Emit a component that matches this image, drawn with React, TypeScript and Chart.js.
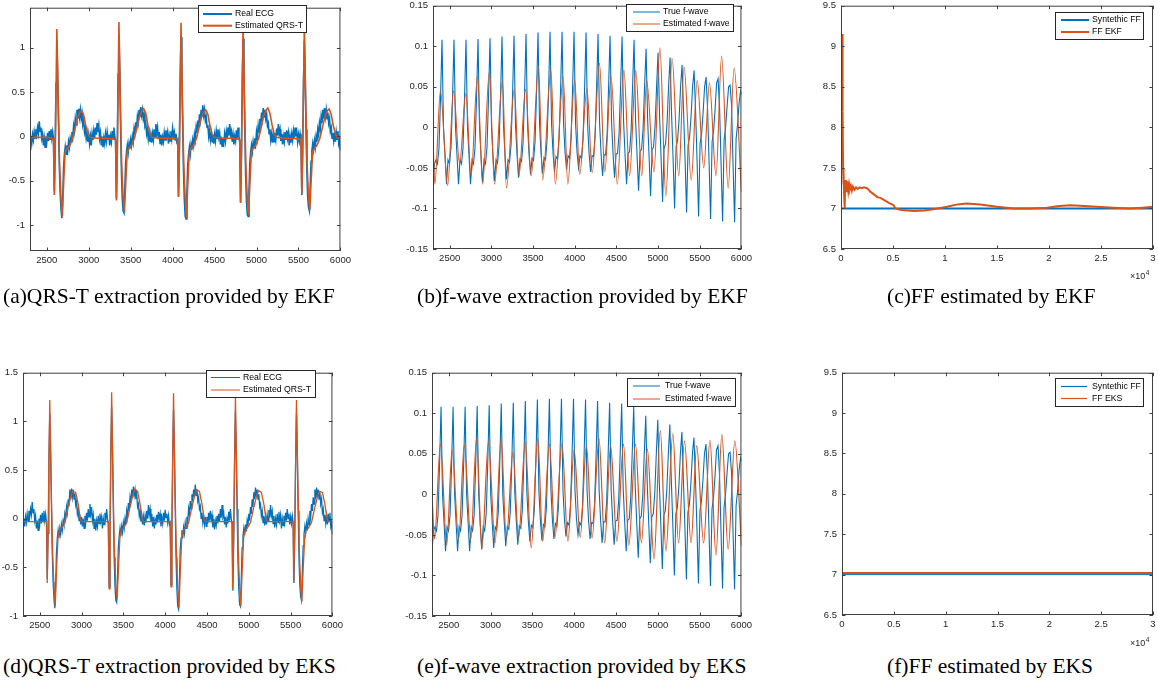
import React, { useEffect, useRef } from 'react';
import { Chart, registerables } from 'chart.js';

Chart.register(...registerables);

const BLUE = '#0072BD';
const ORANGE = '#D95319';
const AXIS = '#404040';
const TEXT = '#262626';
const SANS = '"Liberation Sans", Arial, Helvetica, sans-serif';

// ---------------- DATA ----------------
// Real ECG (same record in panels a and d), sample index = ecgStart + i*ecgStep
const ecgStart = 2300;
const ecgStep = 10;
const realEcg = [
  -0.06, 0.0, -0.08, 0.02, -0.04, 0.05, -0.02, 0.08, 0.02, 0.1, 0.04, 0.17, 0.06, 0.1, -0.02, 0.03, -0.1, -0.02, -0.12, 0.0, -0.06, 0.04, -0.05, 0.06, -0.03, 0.08, -0.02,
  0.05, -0.03, -0.62, -0.15, 0.6, 1.08, 0.7, 0.15, -0.35, -0.65, -0.82, -0.92, -0.7, -0.35, -0.2, -0.12, -0.2, -0.1, -0.16, -0.06, -0.12, -0.02, -0.06, 0.05, 0.0, 0.12, 0.06, 0.2, 0.13, 0.3, 0.2, 0.31, 0.22, 0.3, 0.2, 0.26, 0.14, 0.18, 0.05, 0.1, -0.02, 0.04, -0.06, 0.02,
  -0.08, 0.0, -0.1, 0.03, -0.04, 0.06, -0.02, 0.1, 0.02, 0.15, 0.05, 0.12, -0.02, 0.04, -0.1, 0.0, -0.12, -0.02, -0.08, 0.03, -0.05, 0.05, -0.03, 0.02, -0.1, 0.0, -0.06, 0.06, -0.02, 0.1, 0.0,
  -0.05, -0.7, -0.2, 0.7, 1.15, 0.75, 0.1, -0.4, -0.7, -0.84, -0.86, -0.6, -0.3, -0.18, -0.1, -0.18, -0.08, -0.14, -0.04, -0.1, 0.0, -0.06, 0.08, 0.02, 0.16, 0.08, 0.22, 0.16, 0.3, 0.22, 0.33, 0.24, 0.3, 0.2, 0.25, 0.12, 0.15, 0.03, 0.08, -0.03, 0.04, -0.06, 0.02,
  -0.07, 0.03, -0.04, 0.08, 0.0, 0.14, 0.04, 0.1, -0.03, 0.05, -0.08, 0.02, -0.1, -0.01, -0.06, 0.04, -0.04, 0.07, 0.0, 0.05, -0.08, 0.01, -0.05, 0.06, -0.02, 0.09, 0.01, 0.05, -0.04, 0.03, -0.06,
  -0.04, -0.68, -0.18, 0.65, 1.12, 0.72, 0.12, -0.4, -0.72, -0.9, -0.93, -0.65, -0.32, -0.2, -0.12, -0.2, -0.09, -0.15, -0.04, -0.1, 0.02, -0.04, 0.1, 0.04, 0.18, 0.1, 0.25, 0.18, 0.3, 0.22, 0.35, 0.24, 0.3, 0.18, 0.22, 0.1, 0.13, 0.0, 0.06, -0.04, 0.03, -0.06, 0.02,
  -0.08, 0.02, -0.05, 0.06, -0.02, 0.08, -0.01, 0.04, -0.09, 0.0, -0.11, -0.02, -0.07, 0.03, -0.05, 0.05, -0.03, 0.1, 0.01, 0.14, 0.02, 0.06, -0.06, 0.02, -0.09, 0.0, -0.05, 0.07, -0.02, 0.1, 0.0,
  -0.06, -0.74, -0.22, 0.62, 1.1, 0.7, 0.1, -0.42, -0.72, -0.88, -0.9, -0.62, -0.3, -0.18, -0.1, -0.17, -0.06, -0.13, -0.02, -0.08, 0.05, -0.02, 0.12, 0.05, 0.2, 0.12, 0.27, 0.2, 0.32, 0.22, 0.3, 0.2, 0.25, 0.12, 0.15, 0.03, 0.08, -0.04, 0.03, -0.07, 0.02,
  -0.06, 0.04, -0.03, 0.09, 0.01, 0.14, 0.03, 0.08, -0.05, 0.03, -0.09, 0.0, -0.06, 0.05, -0.04, 0.07, -0.02, 0.04, -0.1, 0.0, -0.07, 0.03, -0.04, 0.06, -0.02, 0.1, 0.0, 0.05, -0.06, 0.02,
  -0.05, 0.03, -0.04, -0.66, -0.15, 0.62, 1.08, 0.68, 0.08, -0.4, -0.68, -0.8, -0.84, -0.55, -0.28, -0.16, -0.08, -0.15, -0.05, -0.12, 0.0, -0.06, 0.08, 0.02, 0.15, 0.08, 0.22, 0.15, 0.3, 0.2, 0.32, 0.22, 0.3, 0.2, 0.27, 0.15, 0.2, 0.06, 0.1, -0.02, 0.04, -0.05, 0.03, -0.06, 0.05, -0.03, 0.06, -0.08, -0.04, -0.16,
];

// Estimated QRS-T by EKF (panel a): [sample, value]
const qrsEkf: [number, number][] = [
  [2300, -0.01], [2400, -0.01], [2500, -0.01], [2560, -0.02],
  [2580, -0.03], [2590, -0.66], [2602, -0.05], [2620, 1.21], [2635, 0.45], [2652, -0.3], [2670, -0.7], [2685, -0.9], [2700, -0.55], [2718, -0.18], [2735, -0.14], [2770, -0.11], [2805, -0.03], [2835, 0.08], [2865, 0.2], [2895, 0.27], [2915, 0.29], [2940, 0.24], [2965, 0.12], [2990, 0.03], [3015, -0.01],
  [3100, -0.02], [3200, -0.02], [3300, -0.03],
  [3320, -0.04], [3330, -0.72], [3342, -0.05], [3360, 1.29], [3375, 0.45], [3392, -0.3], [3410, -0.68], [3425, -0.85], [3440, -0.55], [3458, -0.18], [3475, -0.14], [3510, -0.1], [3545, -0.02], [3575, 0.1], [3605, 0.22], [3635, 0.29], [3655, 0.31], [3680, 0.26], [3705, 0.13], [3730, 0.03], [3755, -0.01],
  [3850, -0.02], [3950, -0.02], [4040, -0.03],
  [4060, -0.04], [4070, -0.68], [4082, -0.05], [4100, 1.28], [4115, 0.45], [4132, -0.3], [4150, -0.7], [4165, -0.92], [4180, -0.56], [4198, -0.18], [4215, -0.14], [4250, -0.1], [4285, -0.02], [4315, 0.1], [4345, 0.22], [4375, 0.28], [4395, 0.3], [4420, 0.25], [4445, 0.12], [4470, 0.03], [4495, -0.01],
  [4600, -0.02], [4700, -0.02], [4780, -0.03],
  [4800, -0.04], [4810, -0.75], [4822, -0.05], [4840, 1.26], [4855, 0.45], [4872, -0.3], [4890, -0.7], [4905, -0.88], [4920, -0.55], [4938, -0.18], [4955, -0.14], [4990, -0.1], [5025, -0.02], [5055, 0.1], [5085, 0.23], [5115, 0.3], [5135, 0.32], [5160, 0.26], [5185, 0.13], [5210, 0.03], [5235, -0.01],
  [5330, -0.02], [5430, -0.02], [5510, -0.03],
  [5530, -0.04], [5540, -0.65], [5552, -0.05], [5570, 1.24], [5585, 0.45], [5602, -0.3], [5620, -0.68], [5635, -0.83], [5650, -0.52], [5668, -0.18], [5685, -0.14], [5720, -0.1], [5755, -0.02], [5785, 0.1], [5815, 0.22], [5845, 0.29], [5865, 0.31], [5890, 0.25], [5915, 0.12], [5940, 0.03], [5965, -0.01], [6000, -0.02],
];

// Estimated QRS-T by EKS (panel d)
const qrsEks: [number, number][] = [
  [2300, -0.03], [2570, -0.03],
  [2582, -0.03], [2590, -0.66], [2600, -0.1], [2620, 1.22], [2635, 0.45], [2652, -0.3], [2670, -0.7], [2685, -0.9], [2700, -0.55], [2718, -0.2], [2735, -0.12], [2760, -0.1], [2800, -0.04], [2835, 0.1], [2870, 0.22], [2895, 0.28], [2930, 0.27], [2960, 0.15], [2985, 0.0], [3000, -0.03],
  [3320, -0.03],
  [3322, -0.03], [3330, -0.72], [3340, -0.1], [3360, 1.3], [3375, 0.45], [3392, -0.3], [3410, -0.68], [3425, -0.83], [3440, -0.55], [3458, -0.2], [3475, -0.12], [3500, -0.1], [3540, -0.04], [3575, 0.1], [3610, 0.23], [3635, 0.3], [3670, 0.28], [3700, 0.15], [3725, 0.0], [3740, -0.03],
  [4060, -0.03],
  [4062, -0.03], [4070, -0.7], [4080, -0.1], [4100, 1.29], [4115, 0.45], [4132, -0.3], [4150, -0.7], [4165, -0.92], [4180, -0.56], [4198, -0.2], [4215, -0.12], [4240, -0.1], [4280, -0.04], [4315, 0.1], [4350, 0.23], [4375, 0.3], [4410, 0.28], [4440, 0.15], [4465, 0.0], [4480, -0.03],
  [4800, -0.03],
  [4802, -0.03], [4810, -0.72], [4820, -0.1], [4840, 1.25], [4855, 0.45], [4872, -0.3], [4890, -0.7], [4905, -0.9], [4920, -0.55], [4938, -0.2], [4955, -0.12], [4980, -0.1], [5020, -0.04], [5055, 0.1], [5090, 0.22], [5115, 0.29], [5150, 0.27], [5180, 0.15], [5205, 0.0], [5220, -0.03],
  [5530, -0.03],
  [5532, -0.03], [5540, -0.65], [5550, -0.1], [5570, 1.22], [5585, 0.45], [5602, -0.3], [5620, -0.68], [5635, -0.85], [5650, -0.52], [5668, -0.2], [5685, -0.12], [5710, -0.1], [5750, -0.04], [5785, 0.1], [5820, 0.22], [5845, 0.28], [5880, 0.27], [5910, 0.15], [5935, 0.0], [5950, -0.03], [6000, -0.03],
];

// True f-wave (panels b and e), sample index = fStart + k*fStep
const fStart = 2300;
const fStep = 18;
const trueFwave = [
  -0.07, -0.045, -0.04, -0.045, -0.025, 0.035,
  0.108, 0.0, -0.035, -0.07, -0.04, -0.045, -0.025, 0.035,
  0.108, 0.0, -0.035, -0.07, -0.04, -0.045, -0.025, 0.035,
  0.108, 0.0, -0.035, -0.07, -0.04, -0.045, -0.025, 0.035,
  0.109, 0.0, -0.035, -0.068, -0.04, -0.045, -0.024, 0.036,
  0.11, 0.0, -0.035, -0.066, -0.04, -0.044, -0.023, 0.037,
  0.112, 0.001, -0.034, -0.064, -0.04, -0.043, -0.022, 0.038,
  0.113, 0.002, -0.033, -0.062, -0.039, -0.042, -0.02, 0.04,
  0.115, 0.003, -0.033, -0.058, -0.038, -0.041, -0.018, 0.042,
  0.117, 0.004, -0.032, -0.057, -0.037, -0.04, -0.016, 0.044,
  0.118, 0.005, -0.032, -0.055, -0.036, -0.039, -0.015, 0.045,
  0.118, 0.005, -0.031, -0.052, -0.035, -0.038, -0.014, 0.046,
  0.118, 0.005, -0.031, -0.05, -0.035, -0.038, -0.014, 0.046,
  0.117, 0.005, -0.032, -0.055, -0.035, -0.036, -0.012, 0.047,
  0.115, 0.006, -0.032, -0.06, -0.034, -0.034, -0.01, 0.048,
  0.113, 0.007, -0.033, -0.062, -0.033, -0.032, -0.008, 0.049,
  0.112, 0.008, -0.034, -0.07, -0.032, -0.03, -0.005, 0.05,
  0.108, 0.01, -0.035, -0.078, -0.03, -0.027, -0.002, 0.05,
  0.097, 0.012, -0.036, -0.085, -0.028, -0.024, 0.002, 0.05,
  0.092, 0.014, -0.037, -0.092, -0.026, -0.02, 0.006, 0.05,
  0.086, 0.016, -0.038, -0.1, -0.024, -0.016, 0.01, 0.05,
  0.077, 0.018, -0.04, -0.105, -0.022, -0.012, 0.014, 0.05,
  0.07, 0.02, -0.042, -0.11, -0.02, -0.008, 0.018, 0.05,
  0.062, 0.022, -0.044, -0.113, -0.018, -0.004, 0.022, 0.055,
  0.06, 0.024, -0.046, -0.116, -0.016, 0.0, 0.026, 0.05,
  0.052, 0.026, -0.048, -0.117, -0.014, 0.004, 0.03, 0.045,
  0.04,
];

// Estimated f-wave by EKF (panel b): extrema [sample, value]
const fwaveEkf: [number, number][] = [
  [2300, -0.013], [2322, -0.07], [2389, 0.045], [2476, -0.072], [2547, 0.045], [2619, -0.045], [2694, 0.042],
  [2757, -0.06], [2833, 0.063], [2896, -0.07], [2975, 0.068], [3038, -0.07], [3133, 0.057], [3181, -0.075],
  [3276, 0.047], [3331, -0.06], [3411, 0.047], [3478, -0.06], [3565, 0.075], [3616, -0.065], [3715, 0.07],
  [3767, -0.07], [3862, 0.062], [3917, -0.07], [4000, 0.058], [4060, -0.058], [4147, 0.048], [4210, -0.056],
  [4297, 0.079], [4361, -0.055], [4436, 0.063], [4511, -0.07], [4590, 0.071], [4658, -0.06], [4733, 0.07],
  [4804, -0.06], [4863, 0.058], [4951, -0.055], [5022, 0.098], [5093, -0.085], [5168, 0.085], [5248, -0.06],
  [5311, 0.075], [5398, -0.065], [5469, 0.058], [5548, -0.05], [5616, 0.055], [5695, -0.06], [5762, 0.088],
  [5841, -0.075], [5912, 0.073], [6000, -0.08],
];

// Estimated f-wave by EKS (panel e)
const fwaveEks: [number, number][] = [
  [2300, 0.0], [2330, -0.055], [2401, 0.062], [2476, -0.062], [2540, 0.055], [2619, -0.055], [2686, 0.061],
  [2765, -0.055], [2833, 0.069], [2896, -0.067], [2975, 0.065], [3054, -0.06], [3126, 0.068], [3189, -0.055],
  [3268, 0.052], [3335, -0.054], [3415, 0.064], [3486, -0.066], [3565, 0.069], [3624, -0.058], [3704, 0.062],
  [3771, -0.053], [3854, 0.063], [3925, -0.058], [4000, 0.055], [4072, -0.053], [4147, 0.06], [4214, -0.054],
  [4297, 0.069], [4365, -0.06], [4436, 0.06], [4511, -0.058], [4590, 0.062], [4654, -0.063], [4733, 0.062],
  [4804, -0.06], [4875, 0.056], [4955, -0.08], [5030, 0.079], [5097, -0.07], [5180, 0.075], [5248, -0.06],
  [5319, 0.066], [5398, -0.06], [5465, 0.06], [5548, -0.06], [5624, 0.067], [5695, -0.075], [5766, 0.074],
  [5841, -0.068], [5921, 0.066], [6000, -0.063],
];

// Fibrillatory frequency (Hz) vs sample
const ffSynthetic: [number, number][] = [[0, 7.0], [30000, 7.0]];
const ffEkf: [number, number][] = [
  [0, 7.9], [40, 8.6], [80, 9.0], [110, 9.15], [140, 8.9], [170, 8.2], [200, 7.5], [230, 7.3], [260, 7.45], [290, 7.2],
  [330, 7.0], [380, 7.02], [420, 7.35], [460, 7.22], [500, 7.34], [560, 7.2], [620, 7.33], [700, 7.22], [780, 7.3],
  [860, 7.24], [950, 7.28], [1050, 7.22], [1150, 7.27], [1300, 7.23], [1450, 7.26], [1600, 7.24], [1800, 7.26],
  [2000, 7.25], [2200, 7.26], [2500, 7.25], [2800, 7.21], [3100, 7.18], [3500, 7.14], [3800, 7.13], [4200, 7.1],
  [4600, 7.07], [5060, 7.04], [5220, 7.0], [5800, 6.98], [7000, 6.97], [8000, 6.975], [8900, 6.99], [10200, 7.02],
  [11200, 7.05], [12100, 7.06], [13400, 7.05], [15000, 7.02], [16600, 7.0], [18200, 7.0], [19800, 7.01],
  [21000, 7.03], [22050, 7.04], [23400, 7.03], [24600, 7.02], [26200, 7.01], [27800, 7.0], [29000, 7.01], [30000, 7.02],
];
const ffEks: [number, number][] = [[0, 7.02], [30000, 7.02]];

// Tick values
const ecgXTicks = [2500, 3000, 3500, 4000, 4500, 5000, 5500, 6000];
const ecgYTicksA = [-1, -0.5, 0, 0.5, 1];
const ecgYTicksD = [-1, -0.5, 0, 0.5, 1, 1.5];
const fwaveYTicks = [-0.15, -0.1, -0.05, 0, 0.05, 0.1, 0.15];
const ffXTicks = [0, 5000, 10000, 15000, 20000, 25000, 30000];
const ffYTicks = [6.5, 7, 7.5, 8, 8.5, 9, 9.5];

// ---------------- LAYOUT ----------------
const PAD_L = 60;
const PAD_T = 8;
const PAD_R = 12;
const PAD_B = 36;

type Series = { label: string; points: { x: number; y: number }[]; color: string; width: number; smooth?: boolean };
type PanelSpec = {
  id: string;
  rect: [number, number, number, number];
  xRange: [number, number];
  yRange: [number, number];
  xTicks: number[];
  yTicks: number[];
  xScale: number;
  series: Series[];
  legend: { box: [number, number, number, number]; line: [number, number]; textX: number; rows: [number, number]; lineWidth: number };
  exponent?: [number, number];
};

const fromGrid = (start: number, step: number, vals: number[]) => vals.map((y, i) => ({ x: start + i * step, y }));
const fromPairs = (pairs: [number, number][]) => pairs.map(([x, y]) => ({ x, y }));

const panels: PanelSpec[] = [
  {
    id: 'a', rect: [30, 5, 343, 251], xRange: [2300, 6000], yRange: [-1.29, 1.45], xTicks: ecgXTicks, yTicks: ecgYTicksA, xScale: 1,
    series: [
      { label: 'Real ECG', points: fromGrid(ecgStart, ecgStep, realEcg), color: BLUE, width: 1.6 },
      { label: 'Estimated QRS-T', points: fromPairs(qrsEkf), color: ORANGE, width: 1.6 },
    ],
    legend: { box: [198, 5, 306, 32], line: [203, 232], textX: 235, rows: [14, 25.7], lineWidth: 2 },
  },
  {
    id: 'b', rect: [433, 3, 744, 249], xRange: [2300, 6000], yRange: [-0.15, 0.15], xTicks: ecgXTicks, yTicks: fwaveYTicks, xScale: 1,
    series: [
      { label: 'True f-wave', points: fromGrid(fStart, fStep, trueFwave), color: BLUE, width: 1.1 },
      { label: 'Estimated f-wave', points: fromPairs(fwaveEkf), color: ORANGE, width: 1.1, smooth: true },
    ],
    legend: { box: [626, 4, 733, 31], line: [633, 660], textX: 663, rows: [12, 24], lineWidth: 1 },
  },
  {
    id: 'c', rect: [841, 3, 1153, 249], xRange: [0, 30000], yRange: [6.5, 9.5], xTicks: ffXTicks, yTicks: ffYTicks, xScale: 10000,
    series: [
      { label: 'Syntethic FF', points: fromPairs(ffSynthetic), color: BLUE, width: 2 },
      { label: 'FF EKF', points: fromPairs(ffEkf), color: ORANGE, width: 2 },
    ],
    legend: { box: [1055, 12, 1143, 39], line: [1061, 1089], textX: 1092, rows: [20, 32], lineWidth: 2 },
    exponent: [1130, 279],
  },
  {
    id: 'd', rect: [23, 370, 335, 616], xRange: [2300, 6000], yRange: [-1, 1.5], xTicks: ecgXTicks, yTicks: ecgYTicksD, xScale: 1,
    series: [
      { label: 'Real ECG', points: fromGrid(ecgStart, ecgStep, realEcg), color: BLUE, width: 1.3 },
      { label: 'Estimated QRS-T', points: fromPairs(qrsEks), color: ORANGE, width: 1.3 },
    ],
    legend: { box: [206, 370, 315, 397], line: [211, 240], textX: 243, rows: [377.5, 390], lineWidth: 1 },
  },
  {
    id: 'e', rect: [432, 370, 744, 616], xRange: [2300, 6000], yRange: [-0.15, 0.15], xTicks: ecgXTicks, yTicks: fwaveYTicks, xScale: 1,
    series: [
      { label: 'True f-wave', points: fromGrid(fStart, fStep, trueFwave), color: BLUE, width: 1.1 },
      { label: 'Estimated f-wave', points: fromPairs(fwaveEks), color: ORANGE, width: 1.2, smooth: true },
    ],
    legend: { box: [627, 378, 735, 406], line: [633, 660], textX: 665, rows: [386, 399], lineWidth: 1 },
  },
  {
    id: 'f', rect: [842, 370, 1153, 615], xRange: [0, 30000], yRange: [6.5, 9.5], xTicks: ffXTicks, yTicks: ffYTicks, xScale: 10000,
    series: [
      { label: 'Syntethic FF', points: fromPairs(ffSynthetic), color: BLUE, width: 1 },
      { label: 'FF EKS', points: fromPairs(ffEks), color: ORANGE, width: 2 },
    ],
    legend: { box: [1055, 378, 1143, 406], line: [1061, 1087], textX: 1092, rows: [386.5, 398.5], lineWidth: 1.2 },
    exponent: [1130, 646],
  },
];

const captions = [
  { text: '(a)QRS-T extraction provided by EKF', left: 3, top: 286 },
  { text: '(b)f-wave extraction provided by EKF', left: 417, top: 286 },
  { text: '(c)FF estimated by EKF', left: 887, top: 286 },
  { text: '(d)QRS-T extraction provided by EKS', left: 3, top: 656 },
  { text: '(e)f-wave extraction provided by EKS', left: 417, top: 656 },
  { text: '(f)FF estimated by EKS', left: 887, top: 656 },
];

const fmt = (v: number) => String(Math.round(v * 1e6) / 1e6);

const matlabPlugin = {
  id: 'matlab',
  afterDatasetsDraw(chart: any, _args: any, opts: any) {
    const { ctx, chartArea: a, scales } = chart;
    const xs = scales.x;
    const ys = scales.y;
    ctx.save();
    ctx.strokeStyle = AXIS;
    ctx.lineWidth = 1;
    const tl = 3.5;
    ctx.beginPath();
    for (const t of xs.ticks) {
      const px = Math.round(xs.getPixelForValue(t.value)) + 0.5;
      ctx.moveTo(px, a.bottom);
      ctx.lineTo(px, a.bottom - tl);
      ctx.moveTo(px, a.top);
      ctx.lineTo(px, a.top + tl);
    }
    for (const t of ys.ticks) {
      const py = Math.round(ys.getPixelForValue(t.value)) + 0.5;
      ctx.moveTo(a.left, py);
      ctx.lineTo(a.left + tl, py);
      ctx.moveTo(a.right, py);
      ctx.lineTo(a.right - tl, py);
    }
    ctx.stroke();
    ctx.strokeRect(a.left + 0.5, a.top + 0.5, a.right - a.left - 1, a.bottom - a.top - 1);

    const [ox, oy] = opts.origin;
    const lg = opts.legend;
    if (lg) {
      const [l, t, r, b] = lg.box;
      ctx.fillStyle = '#ffffff';
      ctx.fillRect(l - ox, t - oy, r - l, b - t);
      ctx.strokeStyle = '#262626';
      ctx.lineWidth = 1;
      ctx.strokeRect(Math.round(l - ox) + 0.5, Math.round(t - oy) + 0.5, Math.round(r - l), Math.round(b - t));
      ctx.font = `8.7px ${SANS}`;
      ctx.textBaseline = 'middle';
      ctx.textAlign = 'left';
      chart.data.datasets.forEach((ds: any, i: number) => {
        const y = lg.rows[i] - oy;
        ctx.strokeStyle = ds.borderColor;
        ctx.lineWidth = lg.lineWidth;
        ctx.beginPath();
        ctx.moveTo(lg.line[0] - ox, y);
        ctx.lineTo(lg.line[1] - ox, y);
        ctx.stroke();
        ctx.fillStyle = '#000000';
        ctx.fillText(ds.label, lg.textX - ox, y);
      });
    }
    if (opts.exponent) {
      const [ex, ey] = opts.exponent;
      ctx.fillStyle = TEXT;
      ctx.textBaseline = 'alphabetic';
      ctx.textAlign = 'left';
      ctx.font = `9px ${SANS}`;
      const base = '\u00d710';
      ctx.fillText(base, ex - ox, ey - oy);
      const w = ctx.measureText(base).width;
      ctx.font = `6.5px ${SANS}`;
      ctx.fillText('4', ex - ox + w + 0.5, ey - oy - 4.5);
    }
    ctx.restore();
  },
};

function Panel({ spec }: { spec: PanelSpec }) {
  const ref = useRef<HTMLCanvasElement>(null);
  const [L, T, R, B] = spec.rect;
  const width = R - L + PAD_L + PAD_R;
  const height = B - T + PAD_T + PAD_B;
  const ox = L - PAD_L;
  const oy = T - PAD_T;

  useEffect(() => {
    const canvas = ref.current;
    if (!canvas) return;
    const tickFont = { family: SANS, size: 9.5 };
    const chart = new Chart(canvas, {
      type: 'line',
      data: {
        datasets: spec.series.map((s, i) => ({
          label: s.label,
          data: s.points,
          borderColor: s.color,
          backgroundColor: s.color,
          borderWidth: s.width,
          pointRadius: 0,
          pointHoverRadius: 0,
          fill: false,
          tension: 0,
          cubicInterpolationMode: s.smooth ? 'monotone' : 'default',
          order: spec.series.length - i,
        })),
      },
      options: {
        animation: false,
        responsive: false,
        devicePixelRatio: 1,
        events: [],
        layout: { padding: { left: 0, top: PAD_T, right: PAD_R, bottom: 0 } },
        plugins: {
          legend: { display: false },
          tooltip: { enabled: false },
          matlab: { origin: [ox, oy], legend: spec.legend, exponent: spec.exponent },
        } as any,
        scales: {
          x: {
            type: 'linear',
            min: spec.xRange[0],
            max: spec.xRange[1],
            grid: { display: false, drawTicks: false },
            border: { display: false },
            ticks: {
              font: tickFont,
              color: TEXT,
              padding: 4,
              maxRotation: 0,
              autoSkip: false,
              callback: (v: any) => fmt(Number(v) / spec.xScale),
            },
            afterBuildTicks: (scale: any) => {
              scale.ticks = spec.xTicks.map((v) => ({ value: v }));
            },
            afterFit: (scale: any) => {
              scale.height = PAD_B;
            },
          },
          y: {
            type: 'linear',
            min: spec.yRange[0],
            max: spec.yRange[1],
            grid: { display: false, drawTicks: false },
            border: { display: false },
            ticks: {
              font: tickFont,
              color: TEXT,
              padding: 5,
              autoSkip: false,
              callback: (v: any) => fmt(Number(v)),
            },
            afterBuildTicks: (scale: any) => {
              scale.ticks = spec.yTicks.map((v) => ({ value: v }));
            },
            afterFit: (scale: any) => {
              scale.width = PAD_L;
            },
          },
        },
      } as any,
      plugins: [matlabPlugin],
    });
    return () => chart.destroy();
  }, [spec]);

  return (
    <canvas
      ref={ref}
      width={width}
      height={height}
      style={{ position: 'absolute', left: ox, top: oy, width, height }}
    />
  );
}

export default function App() {
  return (
    <div
      style={{
        position: 'fixed',
        left: 0,
        top: 0,
        width: 1158,
        height: 694,
        background: '#ffffff',
        overflow: 'hidden',
      }}
    >
      {panels.map((p) => (
        <Panel key={p.id} spec={p} />
      ))}
      {captions.map((c) => (
        <div
          key={c.text}
          style={{
            position: 'absolute',
            left: c.left,
            top: c.top,
            fontFamily: '"Liberation Serif", "Times New Roman", serif',
            fontSize: 21.5,
            lineHeight: '21px',
            whiteSpace: 'nowrap',
            color: '#000',
          }}
        >
          {c.text}
        </div>
      ))}
    </div>
  );
}
